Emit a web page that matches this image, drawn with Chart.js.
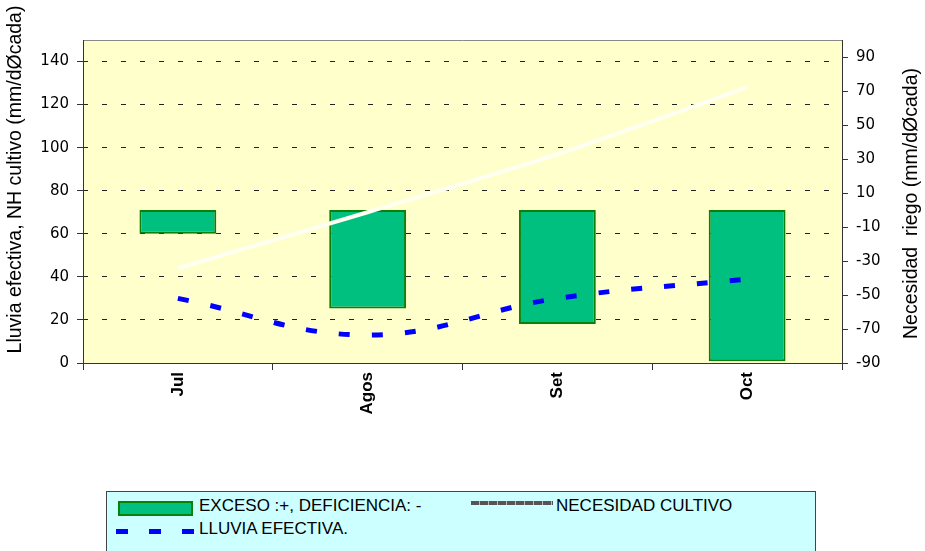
<!DOCTYPE html>
<html>
<head>
<meta charset="utf-8">
<script src="https://cdn.jsdelivr.net/npm/chart.js@4"></script>
<style>
  html, body { margin: 0; padding: 0; background: #fff; }
  #wrap { position: relative; width: 925px; height: 551px; overflow: hidden; }
  #chart { position: absolute; left: 0; top: 0; }
  #legend {
    position: absolute; left: 106px; top: 491px; width: 710px; height: 80px;
    background: #CCFFFF; border: 1px solid #444; box-sizing: border-box;
    font-family: "Liberation Sans Narrow", "Arial Narrow", "Liberation Sans", sans-serif;
    font-size: 17px; color: #000;
  }
  #legend .sw { position: absolute; box-sizing: border-box; }
  #legend .tx { position: absolute; line-height: 17px; white-space: pre; }
</style>
</head>
<body>
<div id="wrap">
  <canvas id="chart" width="925" height="551"></canvas>
  <div id="legend"></div>
</div>
<script>
// datos por década (mm)
const months = ['Jul', 'Agos', 'Set', 'Oct'];
const necesidadCultivo = [44, 70, 97, 128];
const lluviaEfectiva = [30, 13, 30, 39];
const excesoDeficiencia = [-14, -58, -67, -89];

const leftRange = [0, 150];
const leftTickValues = [0, 20, 40, 60, 80, 100, 120, 140];
const rightRange = [-90, 100];
const rightTickValues = [-90, -70, -50, -30, -10, 10, 30, 50, 70, 90];

const labels = {
  bars: 'EXCESO :+, DEFICIENCIA: -',
  need: 'NECESIDAD CULTIVO',
  rain: 'LLUVIA EFECTIVA.',
  left: 'Lluvia efectiva, NH cultivo (mm/dØcada)',
  right: 'Necesidad  riego (mm/dØcada)'
};

const AXIS = '#333';
const TITLE_FONT = '19.5px "Liberation Sans", Arial, sans-serif';

const plotBg = {
  id: 'plotBg',
  beforeDraw(chart){
    const { ctx, chartArea: a } = chart;
    ctx.save();
    ctx.fillStyle = '#FFFFCC';
    ctx.fillRect(a.left, a.top, a.right - a.left, a.bottom - a.top);
    ctx.strokeStyle = '#888';
    ctx.lineWidth = 1;
    ctx.beginPath();
    ctx.moveTo(a.left, a.top + 0.5);
    ctx.lineTo(a.right, a.top + 0.5);
    ctx.stroke();
    ctx.restore();
  }
};

// both axis titles read bottom-to-top, as in the original
const axisTitles = {
  id: 'axisTitles',
  afterDraw(chart){
    const { ctx, chartArea: a } = chart;
    const mid = (a.top + a.bottom) / 2;
    const put = (text, x, y) => {
      ctx.save();
      ctx.translate(x, y);
      ctx.rotate(-Math.PI / 2);
      ctx.font = TITLE_FONT;
      ctx.fillStyle = '#000';
      ctx.textAlign = 'center';
      ctx.textBaseline = 'middle';
      ctx.fillText(text, 0, 0);
      ctx.restore();
    };
    put(labels.left, 16, mid - 22);
    put(labels.right, chart.width - 13, mid + 2);
  }
};

const chart = new Chart(document.getElementById('chart'), {
  data: {
    labels: months,
    datasets: [
      {
        type: 'line', label: labels.need, data: necesidadCultivo, yAxisID: 'y',
        borderColor: '#FFFFF2', borderWidth: 4, tension: 0.3, pointRadius: 0, order: 0
      },
      {
        type: 'line', label: labels.rain, data: lluviaEfectiva, yAxisID: 'y',
        borderColor: '#0000FF', borderWidth: 5, borderDash: [11, 22], borderCapStyle: 'butt',
        tension: 0.4, pointRadius: 0, order: 0
      },
      {
        type: 'bar', label: labels.bars, data: excesoDeficiencia, yAxisID: 'y2',
        backgroundColor: '#00C080', borderColor: '#0A800A', borderWidth: 2, borderSkipped: false,
        barPercentage: 1, categoryPercentage: 0.405, order: 1
      }
    ]
  },
  options: {
    responsive: false,
    animation: false,
    devicePixelRatio: 1,
    layout: { padding: { top: 40, left: 0, right: 0, bottom: 0 } },
    plugins: { legend: { display: false }, tooltip: { enabled: false } },
    scales: {
      x: {
        offset: true,
        grid: { offset: true, drawOnChartArea: false, tickLength: 7, tickColor: AXIS },
        border: { color: AXIS, width: 1 },
        ticks: {
          autoSkip: false, minRotation: 90, maxRotation: 90, padding: 2, color: '#000',
          font: { family: 'Liberation Sans, Arial, sans-serif', size: 17, weight: 'bold' }
        },
        afterFit(s){ s.height = 551 - 363; }
      },
      y: {
        position: 'left', min: leftRange[0], max: leftRange[1],
        grid: { color: '#222', tickLength: 6, tickColor: AXIS },
        border: { color: AXIS, width: 1, dash: [5, 14], dashOffset: 1 },
        ticks: {
          padding: 8, color: '#000',
          font: { family: 'DejaVu Sans, sans-serif', size: 15 }
        },
        afterBuildTicks(s){ s.ticks = leftTickValues.map(v => ({ value: v })); },
        afterFit(s){ s.width = 83; }
      },
      y2: {
        position: 'right', min: rightRange[0], max: rightRange[1],
        grid: { drawOnChartArea: false, tickLength: 6, tickColor: AXIS },
        border: { color: AXIS, width: 1 },
        ticks: {
          padding: 8, color: '#000',
          font: { family: 'DejaVu Sans, sans-serif', size: 15 }
        },
        afterBuildTicks(s){ s.ticks = rightTickValues.map(v => ({ value: v })); },
        afterFit(s){ s.width = 83; }
      }
    }
  },
  plugins: [plotBg, axisTitles]
});

// leyenda en recuadro celeste, dos filas como en el original
function renderLegend(){
  const ds = chart.data.datasets;
  const bar = ds.find(d => d.type === 'bar');
  const need = ds[0], rain = ds[1];
  const items = [
    { text: bar.label, sx: 11, sy: 9, sw: 75, sh: 15,
      css: `background:${bar.backgroundColor};border:2px solid ${bar.borderColor};`, tx: 92, ty: 5 },
    { text: need.label, sx: 364, sy: 9, sw: 82, sh: 4,
      css: 'background:repeating-linear-gradient(to right,#555 0 8px,#bbb 8px 9px);', tx: 449, ty: 5 },
    { text: rain.label, sx: 9, sy: 37, sw: 78, sh: 5,
      css: `background:repeating-linear-gradient(to right,${rain.borderColor} 0 12px,transparent 12px 33px);`, tx: 92, ty: 28 }
  ];
  const box = document.getElementById('legend');
  items.forEach(it => {
    const s = document.createElement('div');
    s.className = 'sw';
    s.style.cssText = `left:${it.sx}px;top:${it.sy}px;width:${it.sw}px;height:${it.sh}px;` + it.css;
    const t = document.createElement('div');
    t.className = 'tx';
    t.style.left = it.tx + 'px';
    t.style.top = it.ty + 'px';
    t.textContent = it.text;
    box.appendChild(s);
    box.appendChild(t);
  });
}
renderLegend();
</script>
</body>
</html>
